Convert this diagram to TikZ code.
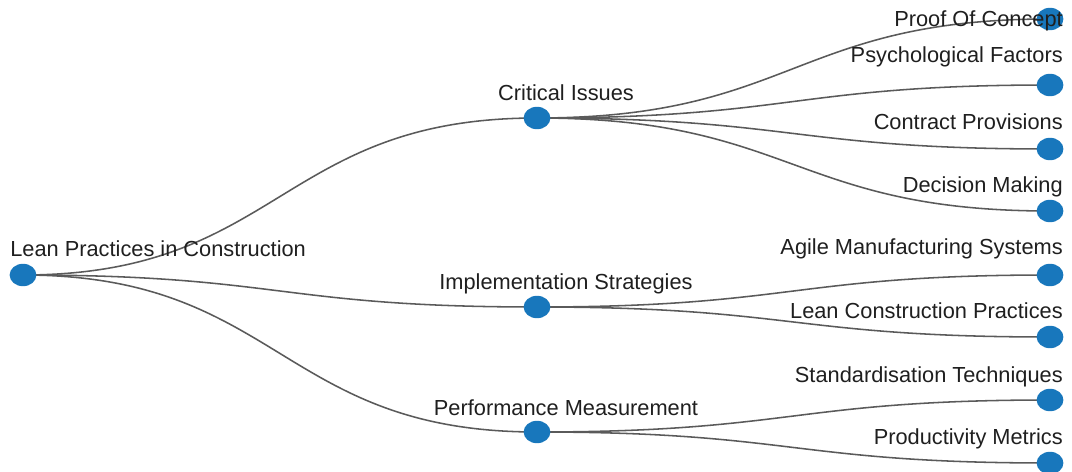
\documentclass[tikz,border=0pt]{standalone}
\usepackage{fontspec}
\setmainfont{Liberation Sans}
\usetikzlibrary{shapes.geometric,backgrounds}
\definecolor{nodeblue}{RGB}{24,119,188}
\definecolor{linkgray}{RGB}{90,90,90}

\begin{document}
\begin{tikzpicture}[x=0.025cm,y=-0.025cm,
    dot/.style={ellipse,fill=nodeblue,inner sep=0pt,minimum width=0.67cm,minimum height=0.56cm},
    txt/.style={font=\fontsize{15.5}{18}\selectfont,text=black!88,inner sep=0pt},
    link/.style={draw=linkgray,line width=1.1pt}]
      \useasboundingbox (0,0) rectangle (1072,472);

      % root and branches
      \node (root) at (23,275) [dot] {};
      \node (crit) at (537,118) [dot] {};
      \node (impl) at (537,307) [dot] {};
      \node (perf) at (537,432) [dot] {};

      % leaves
      \node (poc) at (1050,19) [dot] {};
      \node (psy) at (1050,85) [dot] {};
      \node (con) at (1050,149) [dot] {};
      \node (dec) at (1050,211) [dot] {};
      \node (ams) at (1050,275) [dot] {};
      \node (lcp) at (1050,337) [dot] {};
      \node (std) at (1050,400) [dot] {};
      \node (pm) at (1050,463) [dot] {};

      \begin{pgfonlayer}{background}
        \foreach \mid in {crit,impl,perf}
          \draw[link] (root.center) .. controls +(257,0) and +(-257,0) .. (\mid.center);
        \foreach \leaf in {poc,psy,con,dec}
          \draw[link] (crit.center) .. controls +(256,0) and +(-256,0) .. (\leaf.center);
        \foreach \leaf in {ams,lcp}
          \draw[link] (impl.center) .. controls +(256,0) and +(-256,0) .. (\leaf.center);
        \foreach \leaf in {std,pm}
          \draw[link] (perf.center) .. controls +(256,0) and +(-256,0) .. (\leaf.center);
      \end{pgfonlayer}

      % labels
      \node (root-t) [txt,anchor=base west] at ([shift={(-13,-18)}]root) {Lean Practices in Construction};
      \node (crit-t) [txt,anchor=base] at ([shift={(29,-17)}]crit) {Critical Issues};
      \node (impl-t) [txt,anchor=base] at ([shift={(29,-18)}]impl) {Implementation Strategies};
      \node (perf-t) [txt,anchor=base] at ([shift={(29,-17)}]perf) {Performance Measurement};

      \node (poc-t) [txt,anchor=base east] at ([shift={(13,8)}]poc) {Proof Of Concept};
      \node (psy-t) [txt,anchor=base east] at ([shift={(13,-22)}]psy) {Psychological Factors};
      \node (con-t) [txt,anchor=base east] at ([shift={(13,-19)}]con) {Contract Provisions};
      \node (dec-t) [txt,anchor=base east] at ([shift={(13,-18)}]dec) {Decision Making};
      \node (ams-t) [txt,anchor=base east] at ([shift={(13,-20)}]ams) {Agile Manufacturing Systems};
      \node (lcp-t) [txt,anchor=base east] at ([shift={(13,-19)}]lcp) {Lean Construction Practices};
      \node (std-t) [txt,anchor=base east] at ([shift={(13,-18)}]std) {Standardisation Techniques};
      \node (pm-t) [txt,anchor=base east] at ([shift={(13,-19)}]pm) {Productivity Metrics};
\end{tikzpicture}
\end{document}
